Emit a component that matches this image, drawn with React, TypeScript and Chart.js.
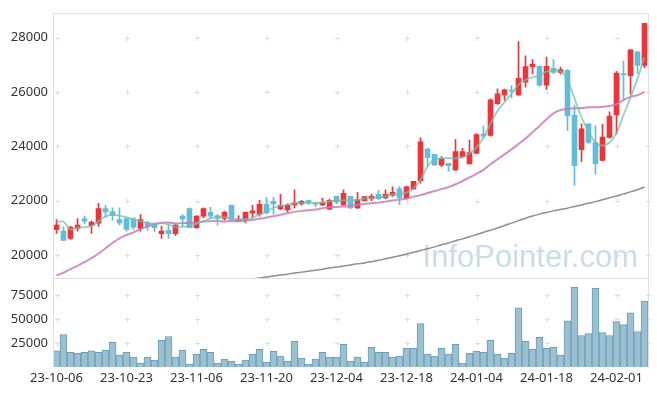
import { useEffect, useRef } from 'react';
import { Chart, registerables } from 'chart.js';
Chart.register(...registerables);

const dates = [
  '23-10-06','23-10-10','23-10-11','23-10-12','23-10-13','23-10-16','23-10-17','23-10-18','23-10-19','23-10-20',
  '23-10-23','23-10-24','23-10-25','23-10-26','23-10-27','23-10-30','23-10-31','23-11-01','23-11-02','23-11-03',
  '23-11-06','23-11-07','23-11-08','23-11-09','23-11-10','23-11-13','23-11-14','23-11-15','23-11-16','23-11-17',
  '23-11-20','23-11-21','23-11-22','23-11-23','23-11-24','23-11-27','23-11-28','23-11-29','23-11-30','23-12-01',
  '23-12-04','23-12-05','23-12-06','23-12-07','23-12-08','23-12-11','23-12-12','23-12-13','23-12-14','23-12-15',
  '23-12-18','23-12-19','23-12-20','23-12-21','23-12-22','23-12-26','23-12-27','23-12-28','24-01-02','24-01-03',
  '24-01-04','24-01-05','24-01-08','24-01-09','24-01-10','24-01-11','24-01-12','24-01-15','24-01-16','24-01-17',
  '24-01-18','24-01-19','24-01-22','24-01-23','24-01-24','24-01-25','24-01-26','24-01-29','24-01-30','24-01-31',
  '24-02-01','24-02-02','24-02-05','24-02-06','24-02-07',
];

const opens = [
  20926,20877,20609,20974,21328,21072,21169,21705,21595,21303,
  21340,21340,20974,21181,21145,20780,20901,20780,21425,21705,
  20999,21425,21571,21449,21340,21827,21242,21279,21547,21486,
  21864,21973,21693,21657,21839,21876,22010,21900,21839,21681,
  22156,21839,22156,21730,21998,22058,22229,22095,22192,22436,
  22095,22424,22729,23898,23700,23313,23372,23131,23616,23350,
  23737,24446,24395,25563,25892,26060,25892,26356,26930,26941,
  26247,26868,26722,26795,25151,23872,24822,24139,23481,24321,
  25151,26674,26601,27478,26977,
];
const highs = [
  21303,21035,21047,21340,21425,21242,21900,21827,21730,21730,
  21364,21364,21486,21242,21181,21060,21096,21145,21486,21730,
  21449,21730,21754,21486,21608,21830,21449,21583,21827,22010,
  22119,22119,22229,21876,22399,22010,22010,21924,22095,22058,
  22156,22399,22156,22302,22144,22241,22375,22399,22509,22521,
  22546,22704,24311,23920,23700,23616,23372,24248,23920,24226,
  24467,24738,25746,26111,26100,26236,27854,27332,27186,26960,
  27280,27186,26915,26820,25516,24822,24822,24749,24811,25271,
  26758,27134,27560,27478,28523,
];
const lows = [
  20792,20536,20572,20877,21145,20792,21047,21389,21267,21096,
  20877,20926,20877,20901,20853,20609,20609,20706,21047,20999,
  20974,21364,21340,21096,21267,21279,21218,21181,21364,21425,
  21510,21486,21669,21571,21730,21827,21851,21766,21815,21669,
  21876,21827,21705,21705,21973,21998,22034,22070,22156,21851,
  22070,22399,22641,23288,23288,23251,23069,23105,23600,23350,
  23737,24300,24370,25541,25688,25783,25870,26174,26660,26200,
  26089,26674,26649,24577,22557,23445,24100,22970,23460,24300,
  24457,25724,25918,26674,26893,
];
const closes = [
  21096,20536,21023,21096,21242,21206,21705,21583,21449,21181,
  20938,21023,21303,21060,20999,20877,20780,21096,21328,20999,
  21425,21705,21425,21340,21571,21279,21315,21571,21620,21864,
  21547,21876,21827,21827,21912,21973,21912,21864,21912,22010,
  21937,22265,21730,22034,22144,22156,22070,22229,22302,22095,
  22509,22704,24164,23580,23313,23532,23288,23799,23799,23763,
  24431,24373,25710,25929,26075,26030,26502,26930,27025,26247,
  26941,26722,26820,25114,23288,24639,24139,23361,24336,25114,
  26696,26637,27551,26977,28523,
];

const ma5 = [
  21206,21218,20938,20999,21023,21060,21242,21413,21474,21449,
  21389,21303,21242,21181,21145,21157,21120,21035,21035,21060,
  21145,21242,21340,21389,21389,21340,21303,21315,21364,21486,
  21608,21730,21803,21851,21900,21924,21924,21912,21937,21973,
  21998,22010,22010,22022,22080,22095,22119,22156,22217,22241,
  22290,22450,22765,23251,23518,23555,23560,23555,23591,23737,
  23956,24321,24833,25297,25626,25929,26272,26440,26539,26601,
  26747,26795,26770,26429,25761,25067,24541,24139,24018,24139,
  24482,25151,25797,26491,27280,
];
const ma20 = [
  19245,19342,19476,19598,19732,19878,20049,20244,20438,20609,
  20731,20828,20950,21047,21133,21181,21193,21157,21169,21181,
  21193,21230,21242,21254,21230,21242,21242,21254,21291,21328,
  21376,21425,21474,21535,21583,21620,21644,21669,21717,21754,
  21766,21778,21803,21839,21876,21900,21924,21961,21998,22034,
  22070,22144,22200,22280,22350,22420,22500,22600,22720,22850,
  22984,23131,23337,23518,23700,23883,24080,24285,24519,24749,
  24994,25213,25333,25370,25395,25406,25432,25432,25455,25480,
  25553,25699,25819,25881,26002,
];
const ma60 = [
  null,null,null,null,null,null,null,null,null,null,
  null,null,null,null,null,null,null,null,null,null,
  null,null,null,null,null,null,null,null,19115,19150,
  19185,19220,19255,19290,19330,19365,19400,19435,19475,19515,
  19550,19590,19630,19670,19705,19750,19800,19855,19910,19965,
  20030,20095,20160,20225,20295,20370,20440,20520,20590,20670,
  20750,20830,20910,20990,21080,21170,21260,21350,21430,21500,
  21560,21620,21670,21720,21780,21840,21900,21960,22030,22100,
  22170,22245,22320,22400,22500,
];
const volumes = [
  16770,33960,15435,14400,15435,16770,15435,17490,25725,12350,
  15435,10290,4116,10290,7200,27780,31900,10290,17490,3087,
  13380,18520,15435,4116,8230,6170,3087,7200,13380,18520,
  5145,16460,11320,6170,26750,9260,3087,8230,15435,10290,
  10290,23670,6170,10290,5145,20580,15435,15435,10290,11320,
  19550,19550,45280,13380,11320,19550,13380,23670,4116,14400,
  16460,15435,27780,13380,9260,14400,61740,26750,18520,30870,
  19550,20580,12350,48360,83350,32930,34990,82320,36020,32930,
  47330,44250,56600,37040,68940,
];

const priceTicks = [20000, 22000, 24000, 26000, 28000];
const volumeTicks = [25000, 50000, 75000];
const PRICE_MIN = 19132;
const PRICE_MAX = 28913;
const VOLUME_MAX = 92500;
const LABEL_EVERY = 10;

const RED = '#ec3539';
const BLUE = '#62bdd9';

const decor = {
  id: 'decor',
  beforeDatasetsDraw(chart: any) {
    const { ctx, chartArea } = chart;
    const xs = chart.scales.x;
    const y = chart.scales.y;
    const yv = chart.scales.yv;
    ctx.save();
    ctx.font = '31px "Liberation Sans", Arial, sans-serif';
    ctx.fillStyle = '#cadde7';
    ctx.textAlign = 'right';
    ctx.textBaseline = 'alphabetic';
    ctx.fillText('InfoPointer.com', chartArea.right - 10, y.bottom - 11);
    const xPos: number[] = [];
    for (let i = 0; i < dates.length; i += LABEL_EVERY) xPos.push(xs.getPixelForValue(i));
    xPos.push(chartArea.right);
    const yPos: number[] = [];
    priceTicks.forEach((v) => yPos.push(y.getPixelForValue(v)));
    volumeTicks.forEach((v) => yPos.push(yv.getPixelForValue(v)));
    ctx.strokeStyle = '#dedede';
    ctx.lineWidth = 1;
    ctx.beginPath();
    xPos.forEach((px) => {
      yPos.forEach((py) => {
        const cx = Math.round(px) + 0.5;
        const cy = Math.round(py) + 0.5;
        ctx.moveTo(cx - 2.5, cy);
        ctx.lineTo(cx + 2.5, cy);
        ctx.moveTo(cx, cy - 2.5);
        ctx.lineTo(cx, cy + 2.5);
      });
    });
    ctx.stroke();
    ctx.restore();
  },
  afterDatasetsDraw(chart: any) {
    const { ctx, chartArea } = chart;
    const y = chart.scales.y;
    ctx.save();
    ctx.strokeStyle = '#e0e0e0';
    ctx.lineWidth = 1;
    const l = Math.round(chartArea.left) + 0.5;
    const r = Math.round(chartArea.right) + 0.5;
    const t = Math.round(chartArea.top) + 0.5;
    const b = Math.round(chartArea.bottom) + 0.5;
    const m = Math.round(y.bottom) + 0.5;
    ctx.beginPath();
    ctx.moveTo(l, b);
    ctx.lineTo(l, t);
    ctx.lineTo(r, t);
    ctx.lineTo(r, b);
    ctx.moveTo(l, m);
    ctx.lineTo(r, m);
    ctx.stroke();
    ctx.restore();
  },
};

export default function App() {
  const ref = useRef<HTMLCanvasElement>(null);
  useEffect(() => {
    const canvas = ref.current!;
    const colors = closes.map((c, i) => (c >= opens[i] ? RED : BLUE));
    const tickFont = { family: "'Noto Sans', sans-serif", size: 13 };
    const plain = (v: any) => String(v);
    const chart = new Chart(canvas, {
      type: 'bar',
      data: {
        labels: dates,
        datasets: [
          {
            type: 'line', label: 'MA5', data: ma5, yAxisID: 'y',
            borderColor: 'rgba(112,192,172,0.75)', borderWidth: 1.8, pointRadius: 0, tension: 0.4, order: 0,
          } as any,
          {
            type: 'line', label: 'MA20', data: ma20, yAxisID: 'y',
            borderColor: 'rgba(196,124,192,0.85)', borderWidth: 2, pointRadius: 0, tension: 0.4, order: 0,
          } as any,
          {
            type: 'line', label: 'MA60', data: ma60, yAxisID: 'y',
            borderColor: 'rgba(130,130,130,0.9)', borderWidth: 1.5, pointRadius: 0, tension: 0.4, order: 0,
          } as any,
          {
            type: 'bar', label: 'wick', data: lows.map((l, i) => [l, highs[i]]), yAxisID: 'y',
            backgroundColor: colors, barThickness: 1, grouped: false, order: 2,
          } as any,
          {
            type: 'bar', label: 'body', data: opens.map((o, i) => [o, closes[i]]), yAxisID: 'y',
            backgroundColor: colors, barThickness: 5, grouped: false, minBarLength: 1, order: 1,
          } as any,
          {
            type: 'bar', label: 'volume', data: volumes, yAxisID: 'yv',
            backgroundColor: '#9bc0d1', borderColor: '#6b9db5', borderWidth: 1,
            barPercentage: 1, categoryPercentage: 1, grouped: false, order: 3,
          } as any,
        ],
      },
      options: {
        animation: false,
        responsive: true,
        maintainAspectRatio: false,
        events: [],
        layout: { padding: { left: 8, top: 10, right: 9, bottom: 0 } },
        plugins: { legend: { display: false }, tooltip: { enabled: false } },
        scales: {
          x: {
            type: 'category', offset: true,
            grid: { display: false, drawTicks: false },
            border: { display: false },
            ticks: {
              autoSkip: false, maxRotation: 0, minRotation: 0, padding: 3,
              color: '#333', font: tickFont,
              callback: (_v: any, i: number) => (i % LABEL_EVERY === 0 ? dates[i] : ''),
            },
            afterFit: (s: any) => { s.height = 29; },
          },
          y: {
            position: 'left', stack: 'panels', stackWeight: 3, weight: 1,
            min: PRICE_MIN, max: PRICE_MAX,
            grid: { display: false, drawTicks: false },
            border: { display: false },
            ticks: { padding: 5, color: '#333', font: tickFont, callback: plain },
            afterBuildTicks: (s: any) => { s.ticks = priceTicks.map((v) => ({ value: v })); },
            afterFit: (s: any) => { s.width = 45; },
          },
          yv: {
            position: 'left', stack: 'panels', stackWeight: 1, weight: 0,
            min: 0, max: VOLUME_MAX,
            grid: { display: false, drawTicks: false },
            border: { display: false },
            ticks: { padding: 5, color: '#333', font: tickFont, callback: plain },
            afterBuildTicks: (s: any) => { s.ticks = volumeTicks.map((v) => ({ value: v })); },
            afterFit: (s: any) => { s.width = 45; },
          },
        },
      } as any,
      plugins: [decor],
    });
    return () => chart.destroy();
  }, []);
  return (
    <div style={{ position: 'fixed', left: 0, top: 0, width: 657, height: 396, background: '#fff' }}>
      <canvas ref={ref} />
    </div>
  );
}
